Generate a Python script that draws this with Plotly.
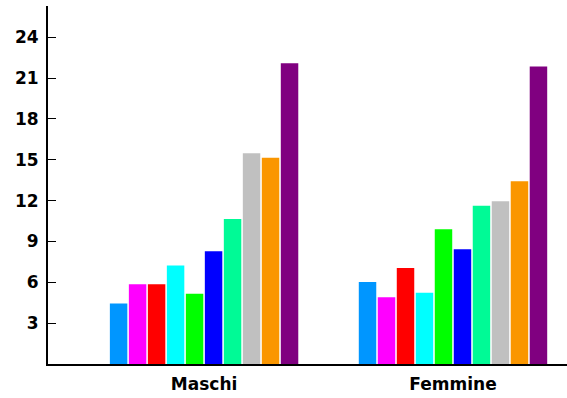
import plotly.graph_objects as go

# categories and one series per colour
categories = ["Maschi", "Femmine"]
series_values = [
    [4.45, 6.03],
    [5.86, 4.90],
    [5.86, 7.06],
    [7.23, 5.24],
    [5.17, 9.90],
    [8.29, 8.43],
    [10.66, 11.62],
    [15.49, 11.96],
    [15.15, 13.43],
    [22.10, 21.86],
]
colors = ["#0096FF", "#FF00FF", "#FF0000", "#00FFFF", "#00FF00",
          "#0000FF", "#00FA96", "#C0C0C0", "#FA9600", "#800080"]
tick_values = [3, 6, 9, 12, 15, 18, 21, 24]

fig = go.Figure()
for vals, col in zip(series_values, colors):
    fig.add_trace(go.Bar(
        x=categories, y=vals,
        marker=dict(color=col, line=dict(width=0)),
        showlegend=False,
    ))

fig.update_layout(
    width=567, height=398,
    margin=dict(l=48, r=0, t=6, b=34),
    barmode="group",
    bargap=0.237,
    bargroupgap=0.08,
    plot_bgcolor="white",
    paper_bgcolor="white",
    font=dict(family="DejaVu Sans", color="black"),
)
fig.update_xaxes(
    range=[-0.627, 1.458],
    showline=True, linecolor="black", linewidth=2,
    ticks="", showgrid=False,
    ticklabelstandoff=4,
    tickfont=dict(size=17, weight="bold"),
)
fig.update_yaxes(
    range=[0, 26.3],
    tickvals=tick_values,
    showline=True, linecolor="black", linewidth=2,
    ticks="inside", ticklen=8, tickcolor="black", tickwidth=1,
    showgrid=False, zeroline=False,
    ticklabelstandoff=4,
    tickfont=dict(size=17, weight="bold"),
)
# drop the default 8px body margin so the figure sits at the page corner
fig.write_html(
    "out.html",
    config={"displayModeBar": False},
    post_script="document.body.style.margin='0';"
                "document.body.style.overflow='hidden';",
)
